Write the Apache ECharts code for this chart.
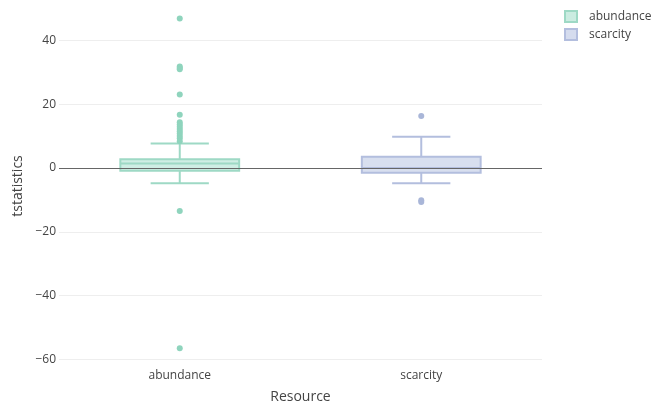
<!DOCTYPE html>
<html>
<head>
<meta charset="utf-8">
<script src="https://cdn.jsdelivr.net/npm/echarts@6/dist/echarts.min.js"></script>
<style>html,body{margin:0;padding:0;background:#fff}#c{width:655px;height:406px}</style>
</head>
<body>
<div id="c"></div>
<script>
// Data
var categories = ['abundance', 'scarcity'];
// [lowerWhisker, q1, median, q3, upperWhisker]
var abundanceBox = [-4.8, -0.9, 1.4, 2.7, 7.7];
var scarcityBox = [-4.8, -1.5, 0.0, 3.5, 9.8];
var abundanceOutliers = [46.8, 31.8, 31.3, 30.9, 23.0, 16.7, 14.3, 13.6, 12.9, 12.2, 11.5, 10.8, 10.0, 9.3, 8.4, -13.5, -56.5];
var scarcityOutliers = [16.3, -10.1, -10.7];
var yTicks = [-60, -40, -20, 0, 20, 40];

var colors = {
  abundance: {line: '#9ed9c5', fill: 'rgba(168,224,205,0.55)', dot: '#8fd4bd'},
  scarcity: {line: '#b3bede', fill: 'rgba(190,201,229,0.6)', dot: '#a9b6d8'}
};

function boxSeries(name, idx, box, outliers) {
  var c = colors[name];
  return [{
    name: name,
    type: 'custom',
    z: 3,
    data: [[idx].concat(box)],
    renderItem: function (params, api) {
      var x = api.value(0);
      var pMin = api.coord([x, api.value(1)]);
      var pQ1 = api.coord([x, api.value(2)]);
      var pMed = api.coord([x, api.value(3)]);
      var pQ3 = api.coord([x, api.value(4)]);
      var pMax = api.coord([x, api.value(5)]);
      var band = api.size([1, 0])[0];
      var bw = band * 0.492;
      var cw = bw * 0.49;
      var cx = pMed[0];
      var ls = {stroke: c.line, lineWidth: 2, fill: null};
      return {
        type: 'group',
        children: [
          {type: 'line', shape: {x1: cx, y1: pQ3[1], x2: cx, y2: pMax[1]}, style: ls},
          {type: 'line', shape: {x1: cx, y1: pQ1[1], x2: cx, y2: pMin[1]}, style: ls},
          {type: 'line', shape: {x1: cx - cw / 2, y1: pMax[1], x2: cx + cw / 2, y2: pMax[1]}, style: ls},
          {type: 'line', shape: {x1: cx - cw / 2, y1: pMin[1], x2: cx + cw / 2, y2: pMin[1]}, style: ls},
          {type: 'rect', shape: {x: cx - bw / 2, y: pQ3[1], width: bw, height: pQ1[1] - pQ3[1]},
            style: {fill: c.fill, stroke: c.line, lineWidth: 2}},
          {type: 'line', shape: {x1: cx - bw / 2, y1: pMed[1], x2: cx + bw / 2, y2: pMed[1]}, style: ls}
        ]
      };
    }
  }, {
    name: name,
    type: 'scatter',
    z: 4,
    symbolSize: 6,
    itemStyle: {color: c.dot, opacity: 1},
    data: outliers.map(function (v) { return [idx, v]; })
  }];
}

var series = [].concat(
  boxSeries('abundance', 0, abundanceBox, abundanceOutliers),
  boxSeries('scarcity', 1, scarcityBox, scarcityOutliers)
);
series.push({
  type: 'line',
  data: [],
  z: 2,
  markLine: {
    silent: true,
    symbol: 'none',
    label: {show: false},
    lineStyle: {color: '#666', width: 1, type: 'solid'},
    data: [{yAxis: 0}]
  }
});

var chart = echarts.init(document.getElementById('c'), null, {renderer: 'canvas'});
chart.setOption({
  animation: false,
  textStyle: {fontFamily: '"Open Sans", sans-serif'},
  legend: {
    orient: 'vertical',
    left: 564,
    top: 10,
    padding: 0,
    itemWidth: 12,
    itemHeight: 11,
    itemGap: 5,
    textStyle: {fontSize: 12, color: '#444', padding: [0, 0, 0, 7]},
    data: [
      {name: 'abundance', icon: 'rect', itemStyle: {color: 'rgba(168,224,205,0.6)', borderColor: '#9ed9c5', borderWidth: 2}},
      {name: 'scarcity', icon: 'rect', itemStyle: {color: 'rgba(190,201,229,0.65)', borderColor: '#b3bede', borderWidth: 2}}
    ]
  },
  grid: {left: 59, right: 113, top: 10, bottom: 44, containLabel: false, outerBoundsMode: 'none'},
  xAxis: {
    type: 'category',
    data: categories,
    name: 'Resource',
    nameLocation: 'middle',
    nameGap: 28,
    nameTextStyle: {fontSize: 14, color: '#444'},
    axisLine: {show: false},
    axisTick: {show: false},
    axisLabel: {fontSize: 12, color: '#444', margin: 8},
    splitLine: {show: false}
  },
  yAxis: {
    type: 'value',
    min: -60.8,
    max: 49.5,
    name: 'tstatistics',
    nameLocation: 'middle',
    nameGap: 32,
    nameTextStyle: {fontSize: 14, color: '#444'},
    axisLine: {show: false},
    axisTick: {show: false, customValues: yTicks},
    axisLabel: {
      fontSize: 12, color: '#444', margin: 3,
      customValues: yTicks,
      formatter: function (v) {
        return String(v).replace('-', '\u2212');
      }
    },
    splitLine: {show: true, lineStyle: {color: '#eeeeee', width: 1}}
  },
  series: series
});
</script>
</body>
</html>
